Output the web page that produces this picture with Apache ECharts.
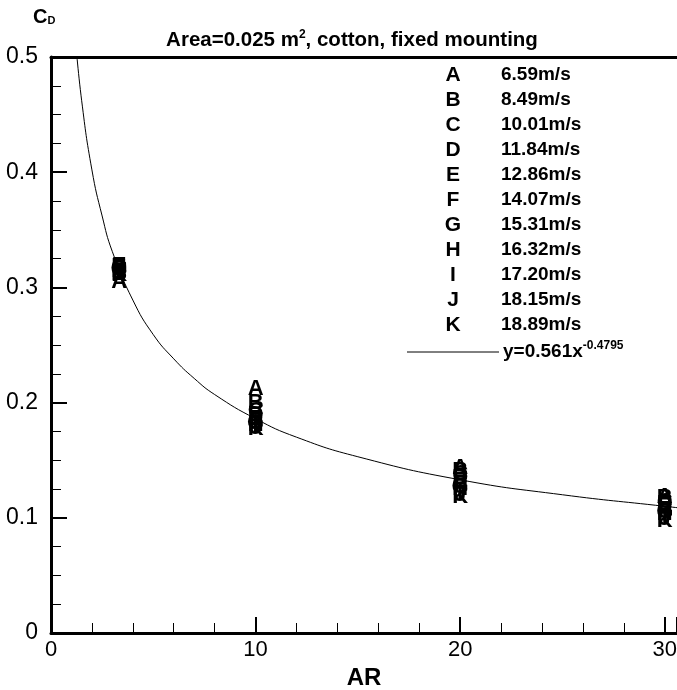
<!DOCTYPE html>
<html>
<head>
<meta charset="utf-8">
<title>CD vs AR</title>
<script src="https://cdn.jsdelivr.net/npm/echarts@6/dist/echarts.min.js"></script>
<style>
  html, body { margin: 0; padding: 0; background: #fff; }
  #chart { width: 677px; height: 690px; }
</style>
</head>
<body>
<div id="chart"></div>
<script>
// aspect ratios tested
var arValues = [3.33, 10, 20, 30];
// one letter per wind speed
var letters = ['A', 'B', 'C', 'D', 'E', 'F', 'G', 'H', 'I', 'J', 'K'];
var speeds = ['6.59m/s', '8.49m/s', '10.01m/s', '11.84m/s', '12.86m/s', '14.07m/s',
              '15.31m/s', '16.32m/s', '17.20m/s', '18.15m/s', '18.89m/s'];
// CD, one row per letter, one column per AR
var cdA = [0.305, 0.212, 0.143, 0.118];
var cdB = [0.312, 0.200, 0.141, 0.117];
var cdC = [0.316, 0.193, 0.138, 0.114];
var cdD = [0.318, 0.189, 0.135, 0.112];
var cdE = [0.319, 0.186, 0.132, 0.110];
var cdF = [0.317, 0.184, 0.129, 0.107];
var cdG = [0.316, 0.182, 0.127, 0.105];
var cdH = [0.314, 0.181, 0.125, 0.103];
var cdI = [0.313, 0.179, 0.122, 0.101];
var cdJ = [0.312, 0.178, 0.120, 0.099];
var cdK = [0.311, 0.177, 0.118, 0.097];
var cdRows = [cdA, cdB, cdC, cdD, cdE, cdF, cdG, cdH, cdI, cdJ, cdK];
// fitted curve y=0.561x^-0.4795
var fitX = [1.2, 1.5, 2, 2.5, 3, 4, 5, 6, 7, 8, 10, 12, 15, 20, 25, 30, 31];
var fitY = [0.514, 0.462, 0.402, 0.362, 0.331, 0.289, 0.259, 0.238, 0.221, 0.207, 0.186, 0.170, 0.153, 0.133, 0.120, 0.110, 0.108];
var xTicks = [0, 10, 20, 30];
var yTicks = [0, 0.1, 0.2, 0.3, 0.4, 0.5];

var font = '"Liberation Sans", Arial, Helvetica, sans-serif';
var chart = echarts.init(document.getElementById('chart'));

var series = [];
letters.forEach(function (l, i) {
    series.push({
        type: 'scatter',
        name: l,
        symbol: 'circle',
        symbolSize: 1,
        itemStyle: {color: 'rgba(0,0,0,0)', opacity: 1},
        label: {
            show: true, position: 'inside', formatter: l, opacity: 1,
            color: '#000', textBorderWidth: 0, textBorderColor: 'transparent',
            fontFamily: font, fontWeight: 'bold', fontSize: 22
        },
        emphasis: {disabled: true},
        data: arValues.map(function (a, j) { return [a, cdRows[i][j]]; })
    });
});
series.push({
    type: 'line',
    name: 'fit',
    showSymbol: false,
    smooth: true,
    clip: true,
    lineStyle: {color: '#000', width: 1},
    data: fitX.map(function (x, j) { return [x, fitY[j]]; }),
    z: 1
});

// legend drawn as text, rows 25px apart
var graphic = [];
letters.forEach(function (l, i) {
    graphic.push({
        type: 'text', x: 453, y: 75 + i * 25,
        style: {text: l, align: 'center', verticalAlign: 'middle',
                font: 'bold 21px ' + font, fill: '#000'}
    });
    graphic.push({
        type: 'text', x: 501, y: 75 + i * 25,
        style: {text: speeds[i], align: 'left', verticalAlign: 'middle',
                font: 'bold 19px ' + font, fill: '#000'}
    });
});
graphic.push({
    type: 'line', shape: {x1: 407, y1: 352, x2: 499, y2: 352},
    style: {stroke: '#000', lineWidth: 1}
});
graphic.push({
    type: 'text', x: 503, y: 352,
    style: {
        text: '{b|y=0.561x}{s|-0.4795}', verticalAlign: 'middle',
        rich: {
            b: {font: 'bold 19px ' + font, fill: '#000'},
            s: {font: 'bold 12px ' + font, fill: '#000', verticalAlign: 'bottom', padding: [0, 0, 12, 0]}
        }
    }
});
// title
graphic.push({
    type: 'text', x: 352, y: 40,
    style: {
        text: '{t|Area=0.025 m}{s|2}{t|, cotton, fixed mounting}', align: 'center', verticalAlign: 'middle',
        rich: {
            t: {font: 'bold 20.5px ' + font, fill: '#000'},
            s: {font: 'bold 12px ' + font, fill: '#000', padding: [0, 0, 10, 0]}
        }
    }
});
// y axis name C_D
graphic.push({
    type: 'text', x: 33, y: 17,
    style: {
        text: '{c|C}{d|D}', verticalAlign: 'middle',
        rich: {
            c: {font: 'bold 20px ' + font, fill: '#000'},
            d: {font: 'bold 11px ' + font, fill: '#000', padding: [8, 0, 0, 0]}
        }
    }
});

chart.setOption({
    backgroundColor: '#fff',
    animation: false,
    grid: {left: 51, right: 0, top: 57, bottom: 57, outerBoundsMode: 'none', containLabel: false},
    xAxis: [{
        type: 'value', min: 0, max: 30.6, interval: 10,
        name: 'AR', nameLocation: 'middle', nameGap: 30,
        nameTextStyle: {fontFamily: font, fontWeight: 'bold', fontSize: 24, color: '#000'},
        axisLine: {onZero: false, lineStyle: {color: '#000', width: 3}},
        axisTick: {inside: true, length: 16, lineStyle: {color: '#000', width: 2}},
        minorTick: {show: true, splitNumber: 5, length: 10, lineStyle: {color: '#000', width: 1}},
        axisLabel: {
            color: '#000', fontFamily: font, fontSize: 22, margin: 6, showMaxLabel: false,
            formatter: function (v) { return xTicks.indexOf(v) >= 0 ? String(v) : ''; }
        },
        splitLine: {show: false}
    }, {
        type: 'value', position: 'top', min: 0, max: 30.6,
        axisLine: {onZero: false, lineStyle: {color: '#000', width: 3}},
        axisTick: {show: false}, axisLabel: {show: false}, splitLine: {show: false}
    }],
    yAxis: {
        type: 'value', min: 0, max: 0.5, interval: 0.1,
        axisLine: {onZero: false, lineStyle: {color: '#000', width: 3}},
        axisTick: {inside: true, length: 16, lineStyle: {color: '#000', width: 2}},
        minorTick: {show: true, splitNumber: 4, length: 10, lineStyle: {color: '#000', width: 1}},
        axisLabel: {
            color: '#000', fontFamily: font, fontSize: 23, margin: 13,
            formatter: function (v) {
                var r = Math.round(v * 10) / 10;
                return yTicks.indexOf(r) >= 0 ? String(r) : '';
            }
        },
        splitLine: {show: false}
    },
    series: series,
    graphic: graphic
});
</script>
</body>
</html>
